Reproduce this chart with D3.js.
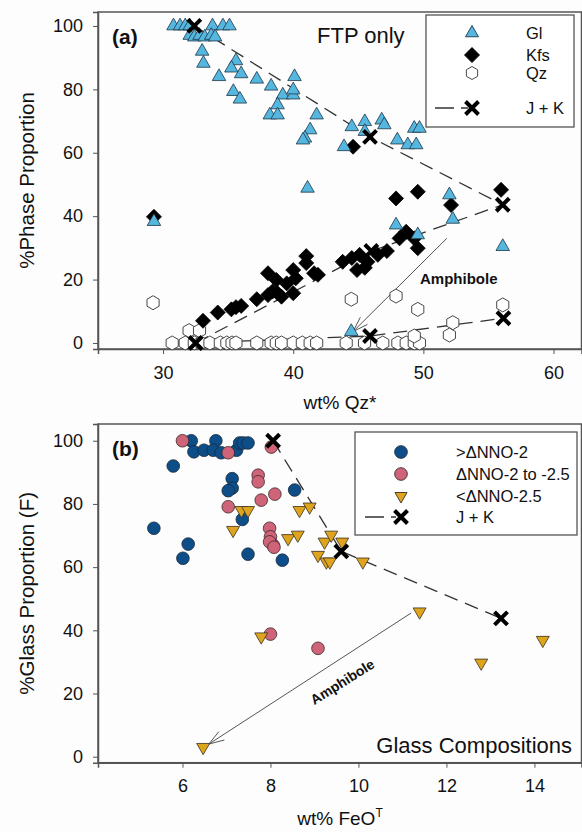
<!DOCTYPE html>
<html>
<head>
<meta charset="utf-8">
<script src="https://cdn.jsdelivr.net/npm/d3@7"></script>
<style>
  body { margin: 0; background: #fdfdfd; }
  svg { display: block; font-family: "Liberation Sans", Arial, sans-serif; }
</style>
</head>
<body>
<div id="chart"></div>
<script>
// ---- panel (a) data: wt% Qz* vs %phase ----
var glPts = [
  [30.8,100],[31.3,100],[31.7,100],[32.05,100],[33.8,100],[34.6,100],[35.1,100],
  [32.05,97],[32.4,96.5],[32.8,97],[33.2,96.5],[33.7,97],[34.0,96.5],
  [33.0,92],[33.1,88.2],[35.6,89],[35.25,86.7],[34.3,84],[36.0,84.9],[37.2,83.2],
  [38.3,81],[40.1,84],[35.4,79.3],[35.9,76.9],[39.2,78.2],[40.0,78.2],[40.0,79.8],
  [38.8,75.1],[38.2,71.9],[38.8,71.9],[41.8,71.9],[41.3,67.2],[40.9,64.6],[40.75,64],
  [44.5,68.2],[45.5,69.8],[46.8,70.3],[47.0,68.8],[45.5,66.7],[49.3,67.7],[49.7,67.7],
  [43.9,61.9],[48.0,64],[48.8,62.5],[49.45,62.5],[41.1,48.8],[52.0,46.7],[52.26,39.0],
  [56.1,30.4],[47.9,37.2],[49.57,34.1],[29.3,38.3],[44.46,3.6]
];
var kfsPts = [
  [29.3,39.8],[33.07,7.0],[34.2,9.6],[35.25,10.6],[35.6,11.3],[36.0,11.7],[37.2,13.8],
  [38.06,15.1],[38.4,16.2],[38.8,15.7],[39.1,14.6],[40.0,15.7],
  [38.06,22],[38.7,19.9],[39.5,18.8],[40.0,23],[40.2,20.4],[41.0,27.4],[41.0,25.2],[41.6,22],
  [41.9,21.5],[43.8,25.6],[44.5,26.8],[45.1,27.8],[45.7,25.6],[46.5,27.8],[47.2,29],
  [44.9,23],[45.5,23.7],[44.6,61.9],[47.9,45.6],[49.57,47.7],[52.13,43.5],[55.97,48.3],
  [48.68,35.1],[48.17,33],[49.3,33],[49.57,29.9]
];
var qzPts = [
  [29.23,12.7],[32.0,3.9],[32.8,3.9],
  [30.7,0],[31.7,0],[32.4,0],[32.9,0],[33.6,0],[34.4,0],[34.9,0],[35.3,0],[35.6,0],
  [37.2,0],[38.3,0],[38.7,0],[39.1,0],[40.0,0],[40.7,0],[41.3,0],[41.8,0],
  [44.07,0],[45.48,0],[46.88,0],[48.04,0],[48.68,0],[49.3,0],[49.7,0],
  [44.46,13.8],[47.9,14.8],[49.57,10.6],[56.1,12.0],[52.26,6.4],[52.0,2.5],[49.3,2.2]
];
// J + K model paths (Gl, Kfs, Qz)
var jkGl = [[32.4,100],[45.9,65],[56.1,43.6]];
var jkKfs = [[32.5,0],[46.0,29],[56.1,43.6]];
var jkQz = [[32.5,0],[45.9,2.2],[56.15,7.8]];
var amphA = [[51.8,33],[44.6,3.6]];

// ---- panel (b) data: wt% FeOT vs %glass ----
var hiNNO = [
  [6.2,100],[6.76,100],[6.26,96.5],[6.49,97],[6.7,97],[6.88,96.2],[7.23,97],[7.3,99.3],
  [7.38,99.3],[7.49,99.3],[5.79,92],[7.13,88],[7.13,85],[7.04,84.2],[8.55,84.4],
  [7.36,75.1],[5.35,72.3],[6.13,67.3],[6.01,62.8],[7.49,64.1],[8.27,62.2]
];
var midNNO = [
  [6.0,100],[7.04,96.2],[8.02,98],[7.72,89.1],[7.72,87],[8.1,83.1],[7.79,81.2],[7.04,79.1],
  [7.98,72.3],[8.0,69.6],[8.06,67],[7.98,68],[8.08,66.3],[8.0,38.8],[9.08,34.3]
];
var loNNO = [
  [7.34,78],[7.49,78],[7.15,71.7],[8.4,69.1],[8.62,70.2],[8.66,78],[8.89,79.1],[9.23,68],
  [9.08,63.8],[9.27,61.7],[9.35,61.7],[10.1,61.7],[9.63,68],[9.38,70.2],
  [11.39,45.9],[14.19,36.9],[12.79,29.7],[7.79,38],[6.47,3]
];
var jkB = [[8.06,100],[9.61,65],[13.24,43.8]];
var amphB = [[11.2,45.5],[6.6,4]];

var xTicksA = [30,40,50,60], yTicks = [0,20,40,60,80,100], xTicksB = [6,8,10,12,14];

var W = 582, H = 832;
var svg = d3.select("#chart").append("svg").attr("width", W).attr("height", H);

var frameCol = "#555", dashCol = "#333";

// symbol paths
function triUp(r) { return "M0," + (-r) + "L" + (r*0.866) + "," + (r/2) + "L" + (-r*0.866) + "," + (r/2) + "Z"; }
function triDown(r) { return "M0," + r + "L" + (r*0.866) + "," + (-r/2) + "L" + (-r*0.866) + "," + (-r/2) + "Z"; }
function diamond(r) { return "M0," + (-r) + "L" + r + ",0L0," + r + "L" + (-r) + ",0Z"; }
function hexagon(r) {
  var p = d3.range(6).map(function(i) { var a = Math.PI/3*i; return [r*Math.sin(a), -r*Math.cos(a)]; });
  return "M" + p.join("L") + "Z";
}
function cross(r) { return "M" + (-r) + "," + (-r) + "L" + r + "," + r + "M" + r + "," + (-r) + "L" + (-r) + "," + r; }

function panel(opt) {
  var x = d3.scaleLinear().domain(opt.xd).range([98, 581.5]);
  var y = d3.scaleLinear().domain(opt.yd).range([opt.bottom, opt.top]);
  var g = svg.append("g");

  g.append("rect").attr("x", 98).attr("y", opt.top)
      .attr("width", 581.5 - 98).attr("height", opt.bottom - opt.top)
      .attr("fill", "none").attr("stroke", frameCol).attr("stroke-width", 1.5);

  var xa = g.append("g").attr("transform", "translate(0," + opt.bottom + ")")
      .call(d3.axisBottom(x).tickValues(opt.xt).tickSize(5).tickPadding(12));
  var ya = g.append("g").attr("transform", "translate(98,0)")
      .call(d3.axisLeft(y).tickValues(yTicks).tickSize(5).tickPadding(10));
  [xa, ya].forEach(function(a) {
    a.select(".domain").attr("stroke", frameCol).attr("stroke-width", 1.5);
    a.selectAll(".tick line").attr("stroke", frameCol);
    a.selectAll(".tick text").attr("font-size", 18).attr("fill", "#111")
        .attr("font-family", "Liberation Sans, Arial, sans-serif");
  });

  g.append("text").attr("x", 340).attr("y", opt.xTitleY).attr("text-anchor", "middle")
      .attr("font-size", 19).attr("fill", "#111").html(opt.xTitle);
  g.append("text").attr("transform", "translate(34," + ((opt.top + opt.bottom) / 2) + ") rotate(-90)")
      .attr("text-anchor", "middle").attr("font-size", 20.5).attr("fill", "#111").text(opt.yTitle);

  g.append("text").attr("x", 112).attr("y", opt.top + 32).attr("font-size", 21)
      .attr("font-weight", "bold").attr("fill", "#111").text(opt.tag);

  return {g: g, x: x, y: y};
}

function dashed(p, pts) {
  var line = d3.line().x(function(d) { return p.x(d[0]); }).y(function(d) { return p.y(d[1]); });
  p.g.append("path").attr("d", line(pts)).attr("fill", "none")
      .attr("stroke", dashCol).attr("stroke-width", 1.3).attr("stroke-dasharray", "14,8");
}

function arrow(p, pts) {
  var x0 = p.x(pts[0][0]), y0 = p.y(pts[0][1]), x1 = p.x(pts[1][0]), y1 = p.y(pts[1][1]);
  var ang = Math.atan2(y0 - y1, x0 - x1), L = 16, s = 0.32;
  p.g.append("path")
      .attr("d", "M" + x0 + "," + y0 + "L" + x1 + "," + y1 +
        "M" + (x1 + L*Math.cos(ang + s)) + "," + (y1 + L*Math.sin(ang + s)) + "L" + x1 + "," + y1 +
        "L" + (x1 + L*Math.cos(ang - s)) + "," + (y1 + L*Math.sin(ang - s)))
      .attr("fill", "none").attr("stroke", "#555").attr("stroke-width", 1);
}

function marks(p, pts, path, fill, stroke, sw) {
  p.g.append("g").selectAll("path").data(pts).enter().append("path")
      .attr("transform", function(d) { return "translate(" + p.x(d[0]) + "," + p.y(d[1]) + ")"; })
      .attr("d", path).attr("fill", fill).attr("stroke", stroke).attr("stroke-width", sw || 0.8);
}

function crosses(p, pts) {
  p.g.append("g").selectAll("path").data(pts).enter().append("path")
      .attr("transform", function(d) { return "translate(" + p.x(d[0]) + "," + p.y(d[1]) + ")"; })
      .attr("d", cross(6.5)).attr("stroke", "#000").attr("stroke-width", 4).attr("fill", "none");
}

// ---------- panel (a) ----------
var pa = panel({xd: [25, 62.15], yd: [-1.9, 104.4], top: 12, bottom: 349, xt: xTicksA,
  xTitle: "wt% Qz*", xTitleY: 409, yTitle: "%Phase Proportion", tag: "(a)"});

dashed(pa, jkGl); dashed(pa, jkKfs); dashed(pa, jkQz);
arrow(pa, amphA);
marks(pa, qzPts, hexagon(7), "#fff", "#333", 0.9);
marks(pa, kfsPts, diamond(7.5), "#000", "#000");
marks(pa, glPts, triUp(7.8), "#55b6e0", "#1d3644");
crosses(pa, jkGl.concat(jkKfs.slice(1, 2), jkQz));

pa.g.append("text").attr("x", 317).attr("y", 43).attr("font-size", 22).attr("fill", "#111").text("FTP only");
pa.g.append("text").attr("x", 420).attr("y", 284).attr("font-size", 15).attr("font-weight", "bold")
    .attr("fill", "#111").text("Amphibole");

// legend (a)
var la = pa.g.append("g");
la.append("rect").attr("x", 426).attr("y", 15).attr("width", 148).attr("height", 112)
    .attr("fill", "#fff").attr("stroke", frameCol).attr("stroke-width", 1.3);
var legA = [
  {label: "Gl", y: 33, path: triUp(7.5), fill: "#55b6e0", stroke: "#1d3644"},
  {label: "Kfs", y: 55, path: diamond(7.5), fill: "#000", stroke: "#000"},
  {label: "Qz", y: 73, path: hexagon(6.5), fill: "#fff", stroke: "#333"}
];
legA.forEach(function(d) {
  la.append("path").attr("transform", "translate(472," + d.y + ")").attr("d", d.path)
      .attr("fill", d.fill).attr("stroke", d.stroke).attr("stroke-width", 0.9);
  la.append("text").attr("x", 526).attr("y", d.y + 6).attr("font-size", 16.5).attr("fill", "#111").text(d.label);
});
la.append("path").attr("d", "M435,108H502").attr("stroke", dashCol).attr("stroke-width", 1.3)
    .attr("stroke-dasharray", "19,7,7,45,17");
la.append("path").attr("transform", "translate(472,108)").attr("d", cross(6.5))
    .attr("stroke", "#000").attr("stroke-width", 4);
la.append("text").attr("x", 526).attr("y", 114).attr("font-size", 16.5).attr("fill", "#111").text("J + K");

// ---------- panel (b) ----------
var pb = panel({xd: [4.08, 15.07], yd: [-1.9, 105.3], top: 424, bottom: 762.7, xt: xTicksB,
  xTitle: "wt% FeO<tspan dy='-8' font-size='12'>T</tspan>", xTitleY: 825,
  yTitle: "%Glass Proportion (F)", tag: "(b)"});

dashed(pb, jkB);
arrow(pb, amphB);
marks(pb, hiNNO, d3.symbol().type(d3.symbolCircle).size(Math.PI * 40)(), "#0d4e89", "#1a2a3a");
marks(pb, midNNO, d3.symbol().type(d3.symbolCircle).size(Math.PI * 40)(), "#cf6479", "#3a2a2a");
marks(pb, loNNO, triDown(7.5), "#dea41e", "#3a3020");
crosses(pb, jkB);

pb.g.append("text").attr("x", 572).attr("y", 753).attr("text-anchor", "end").attr("font-size", 22)
    .attr("fill", "#111").text("Glass Compositions");
pb.g.append("text").attr("transform", "translate(345,686) rotate(-32)").attr("text-anchor", "middle")
    .attr("font-size", 14).attr("font-weight", "bold").attr("fill", "#111").text("Amphibole");

// legend (b)
var lb = pb.g.append("g");
lb.append("rect").attr("x", 355).attr("y", 432).attr("width", 222).attr("height", 103)
    .attr("fill", "#fff").attr("stroke", frameCol).attr("stroke-width", 1.3);
var legB = [
  {label: ">\u0394NNO-2", y: 452, path: d3.symbol().type(d3.symbolCircle).size(Math.PI * 40)(), fill: "#0d4e89", stroke: "#1a2a3a"},
  {label: "\u0394NNO-2 to -2.5", y: 474, path: d3.symbol().type(d3.symbolCircle).size(Math.PI * 40)(), fill: "#cf6479", stroke: "#3a2a2a"},
  {label: "<\u0394NNO-2.5", y: 496, path: triDown(7), fill: "#dea41e", stroke: "#3a3020"}
];
legB.forEach(function(d) {
  lb.append("path").attr("transform", "translate(401," + d.y + ")").attr("d", d.path)
      .attr("fill", d.fill).attr("stroke", d.stroke).attr("stroke-width", 0.9);
  lb.append("text").attr("x", 456).attr("y", d.y + 6).attr("font-size", 16.5).attr("fill", "#111").text(d.label);
});
lb.append("path").attr("d", "M365,517H422").attr("stroke", dashCol).attr("stroke-width", 1.3)
    .attr("stroke-dasharray", "19,7,5,41,17");
lb.append("path").attr("transform", "translate(401,517)").attr("d", cross(6.5))
    .attr("stroke", "#000").attr("stroke-width", 4);
lb.append("text").attr("x", 456).attr("y", 523).attr("font-size", 16.5).attr("fill", "#111").text("J + K");
</script>
</body>
</html>
